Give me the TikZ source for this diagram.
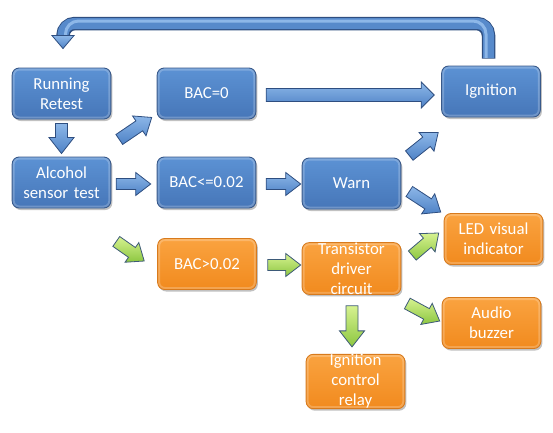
\documentclass[tikz,border=0pt]{standalone}
\usepackage{fontspec}
\setmainfont{Carlito}
\usetikzlibrary{calc,shadows}
\definecolor{bluetop}{HTML}{5C92D4}
\definecolor{bluebot}{HTML}{4676B8}
\definecolor{blueedge}{HTML}{38598A}
\definecolor{orangetop}{HTML}{FAA340}
\definecolor{orangebot}{HTML}{F18A1E}
\definecolor{orangeedge}{HTML}{D87A1C}
\definecolor{barrtop}{HTML}{8DB7E8}
\definecolor{barrbot}{HTML}{4E82C6}
\definecolor{barredge}{HTML}{2E4E80}
\definecolor{garrtop}{HTML}{D6F290}
\definecolor{garrbot}{HTML}{8CC640}
\definecolor{garredge}{HTML}{3D5A78}
\newcommand\fatarrow[6]{%
  \coordinate (fa-hb) at ($(#3)!#6pt!(#2)$);
  \path[#1] ($(#2)!#4pt!90:(#3)$) -- ($(fa-hb)!#4pt!90:(#3)$) -- ($(fa-hb)!#5pt!90:(#3)$) -- (#3)
    -- ($(fa-hb)!#5pt!-90:(#3)$) -- ($(fa-hb)!#4pt!-90:(#3)$) -- ($(#2)!#4pt!-90:(#3)$) -- cycle;
}
\begin{document}
\begin{tikzpicture}[x=1pt,y=-1pt,
  boxbase/.style={rounded corners=7pt, minimum width=96pt, minimum height=51pt,
    text width=92pt, align=center, text=white, inner ysep=0pt,
    font=\fontsize{16.8}{20}\selectfont, line width=0.9pt,
    drop shadow={shadow xshift=1.5pt, shadow yshift=-2pt, opacity=0.35, fill=black!70},
    path picture={\draw[white, opacity=0.22, line width=5pt, rounded corners=7pt]
      (path picture bounding box.south west) rectangle (path picture bounding box.north east);}},
  bluebox/.style={boxbase, draw=blueedge, top color=bluetop, bottom color=bluebot},
  orangebox/.style={boxbase, draw=orangeedge, top color=orangetop, bottom color=orangebot},
  barrow/.style={draw=barredge, line width=0.8pt, line join=miter, top color=barrtop, bottom color=barrbot},
  garrow/.style={draw=garredge, line width=0.8pt, line join=miter, top color=garrtop, bottom color=garrbot},
]
\useasboundingbox (0,0) rectangle (553,432);

% boxes
\node[bluebox] (rr) at (61.5,93.5) {Running\\Retest};
\node[bluebox] (bac0) at (206.5,93.5) {BAC=0};
\node[bluebox] (ign) at (491,91.5) {Ignition};
\node[bluebox] (alc) at (61.5,182.5) {Alcohol\\sensor test};
\node[bluebox] (bacle) at (206.5,182.5) {BAC<=0.02};
\node[bluebox] (warn) at (351.5,183.5) {Warn};
\node[orangebox] (led) at (493.5,239) {LED visual\\indicator};
\node[orangebox] (bacgt) at (207,264) {BAC>0.02};
\node[orangebox] (trans) at (351.5,268.5) {Transistor\\driver\\circuit};
\node[orangebox] (audio) at (491.5,323) {Audio\\buzzer};
\node[orangebox] (relay) at (355.5,381.5) {Ignition\\control\\relay};

% arrow end points
\coordinate (a1s) at ($(rr.south)+(0,4)$);
\coordinate (a1e) at ($(alc.north)+(0,-3)$);
\coordinate (a2s) at ($(rr.south east)+(8,20)$);
\coordinate (a2e) at ($(bac0.south west)+(-5,-2)$);
\coordinate (a3s) at ($(bac0.east)+(10,1.5)$);
\coordinate (a3e) at ($(ign.west)+(-7,3.5)$);
\coordinate (a4s) at ($(alc.east)+(5,1.5)$);
\coordinate (a4e) at ($(bacle.west)+(-6,1.5)$);
\coordinate (a5s) at ($(bacle.east)+(10,1.5)$);
\coordinate (a5e) at ($(warn.west)+(-1,0.5)$);
\coordinate (a6s) at ($(warn.north east)+(8,-2)$);
\coordinate (a6e) at ($(ign.south west)+(-3,15)$);
\coordinate (a7s) at ($(warn.east)+(8,8)$);
\coordinate (a7e) at ($(led.north west)+(-3,-1)$);
\coordinate (a8s) at ($(alc.south east)+(5,33)$);
\coordinate (a8e) at ($(bacgt.west)+(-13,-3)$);
\coordinate (a9s) at ($(bacgt.east)+(11,1)$);
\coordinate (a9e) at ($(trans.west)+(-1,-3.5)$);
\coordinate (a10s) at ($(trans.east)+(11,-13)$);
\coordinate (a10e) at ($(led.west)+(-5,-6)$);
\coordinate (a11s) at ($(trans.east)+(6,35)$);
\coordinate (a11e) at ($(audio.west)+(-2,-2)$);
\coordinate (a12s) at ($(trans.south)+(0.5,11)$);
\coordinate (a12e) at ($(relay.north)+(-3.5,-7)$);

\fatarrow{barrow}{a1s}{a1e}{6}{12.5}{16}
\fatarrow{barrow}{a2s}{a2e}{6}{12}{15}
\fatarrow{barrow}{a3s}{a3e}{6.5}{13}{13}
\fatarrow{barrow}{a4s}{a4e}{5.5}{11.5}{15}
\fatarrow{barrow}{a5s}{a5e}{5.5}{11.5}{15}
\fatarrow{barrow}{a6s}{a6e}{6}{12}{15}
\fatarrow{barrow}{a7s}{a7e}{6}{12}{15}
\fatarrow{garrow}{a8s}{a8e}{6}{12}{15}
\fatarrow{garrow}{a9s}{a9e}{5.5}{11.5}{15}
\fatarrow{garrow}{a10s}{a10e}{6}{12}{15}
\fatarrow{garrow}{a11s}{a11e}{6}{12}{15}
\fatarrow{garrow}{a12s}{a12e}{6}{12.5}{16}

% loop from Ignition back to Running Retest
\coordinate (lps) at ($(ign.north)+(-2.5,-7)$);
\coordinate (lptop) at (0,23.5);
\coordinate (lpe) at ($(rr.north)+(1.5,-19)$);
\coordinate (lphb) at ($(lpe)+(0,-13)$);
\draw[barredge, line width=13.5pt, rounded corners=12pt] (lps) -- (lps |- lptop) -- (lpe |- lptop) -- (lphb);
\draw[barrbot!85!barrtop, line width=11pt, rounded corners=11pt] ($(lps)+(0,-0.7)$) -- (lps |- lptop) -- (lpe |- lptop) -- ($(lphb)+(0,1)$);
\draw[barrtop, line width=3pt, rounded corners=13pt] ($(lps)+(-2.5,-0.7)$) -- ($(lps |- lptop)+(-2.5,-2.5)$) -- ($(lpe |- lptop)+(2.5,-2.5)$) -- ($(lphb)+(2.5,1)$);
\path[barrow] ($(lphb)+(-11,0)$) -- ($(lphb)+(11,0)$) -- (lpe) -- cycle;
\end{tikzpicture}
\end{document}
